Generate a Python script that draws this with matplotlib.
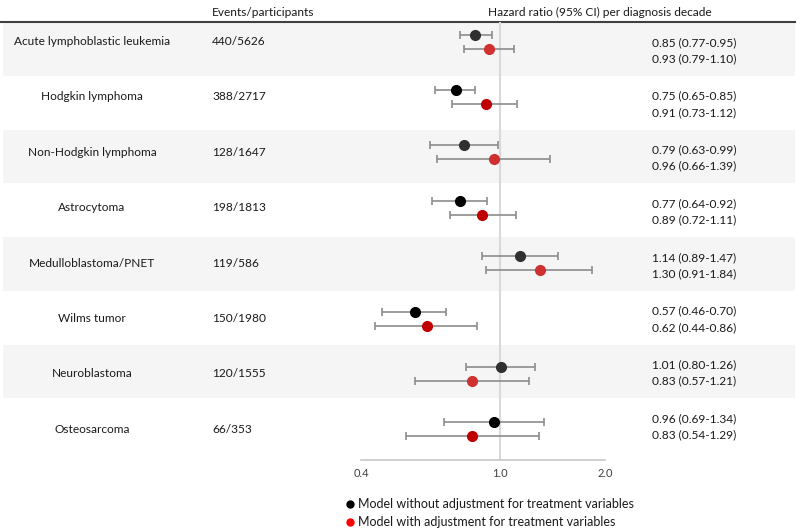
import matplotlib
matplotlib.use("Agg")
import matplotlib.pyplot as plt
import matplotlib.transforms as mtransforms
from matplotlib.lines import Line2D
from matplotlib.ticker import FixedLocator, NullLocator, FixedFormatter

plt.rcParams['font.family'] = ['Lato', 'DejaVu Sans']

cancers = ['Acute lymphoblastic leukemia', 'Hodgkin lymphoma', 'Non-Hodgkin lymphoma',
           'Astrocytoma', 'Medulloblastoma/PNET', 'Wilms tumor', 'Neuroblastoma', 'Osteosarcoma']
events = ['440/5626', '388/2717', '128/1647', '198/1813', '119/586', '150/1980', '120/1555', '66/353']

hr_unadj = [0.85, 0.75, 0.79, 0.77, 1.14, 0.57, 1.01, 0.96]
lo_unadj = [0.77, 0.65, 0.63, 0.64, 0.89, 0.46, 0.80, 0.69]
hi_unadj = [0.95, 0.85, 0.99, 0.92, 1.47, 0.70, 1.26, 1.34]

hr_adj = [0.93, 0.91, 0.96, 0.89, 1.30, 0.62, 0.83, 0.83]
lo_adj = [0.79, 0.73, 0.66, 0.72, 0.91, 0.44, 0.57, 0.54]
hi_adj = [1.10, 1.12, 1.39, 1.11, 1.84, 0.86, 1.21, 1.29]

xticks = [0.4, 1.0, 2.0]
xticklabels = ['0.4', '1.0', '2.0']

W, H = 800, 531
fig = plt.figure(figsize=(W / 100, H / 100), dpi=100)

# background "table" axes: rows in index units, band height ~54 px
top_px, row_px = 22, 53.75
bg = fig.add_axes([0, 0, 1, 1], zorder=0)
bg.set_xlim(0, 1)
bg.set_ylim(-0.5 + (H - top_px) / row_px, -0.5 - top_px / row_px)
bg.axis('off')

n = len(cancers)
for i in range(n):
    if i % 2 == 0:
        bg.axhspan(i - 0.5, i + 0.5, xmin=0.004, xmax=0.994, color='#f5f5f5', lw=0)
bg.axhline(-0.5, xmin=0, xmax=0.994, color='#404040', lw=1.5)

fs = 8.6
txtc = '#1a1a1a'
bg.text(212 / W, -0.5 - 10 / row_px, 'Events/participants', ha='left', va='center',
        fontsize=fs, color=txtc)
bg.text(600 / W, -0.5 - 10 / row_px, 'Hazard ratio (95% CI) per diagnosis decade',
        ha='center', va='center', fontsize=fs, color=txtc)

for i in range(n):
    bg.text(694 / W, i - 0.12, f'{hr_unadj[i]:.2f} ({lo_unadj[i]:.2f}-{hi_unadj[i]:.2f})',
            ha='center', va='center', fontsize=fs, color=txtc)
    bg.text(694 / W, i + 0.18, f'{hr_adj[i]:.2f} ({lo_adj[i]:.2f}-{hi_adj[i]:.2f})',
            ha='center', va='center', fontsize=fs, color=txtc)

# forest axes: point pairs spaced ~55.4 px
pt_px, pt0 = 55.4, 41.5
ax_top, ax_bot = 22, 460
ax_l, ax_r = 361, 605
ax = fig.add_axes([ax_l / W, (H - ax_bot) / H, (ax_r - ax_l) / W, (ax_bot - ax_top) / H], zorder=1)
ax.patch.set_alpha(0)
ax.set_xscale('log')
ax.set_xlim(0.4, 2.0)
ax.set_ylim((ax_bot - pt0) / pt_px, (ax_top - pt0) / pt_px)
for s in ['top', 'right', 'left']:
    ax.spines[s].set_visible(False)
ax.spines['bottom'].set_color('#c8c8c8')
ax.spines['bottom'].set_linewidth(1.2)
ax.xaxis.set_major_locator(FixedLocator(xticks))
ax.xaxis.set_major_formatter(FixedFormatter(xticklabels))
ax.xaxis.set_minor_locator(NullLocator())
ax.tick_params(axis='x', length=0, pad=6, labelsize=8, labelcolor='#404040')
ax.set_yticks([])
ax.axvline(1.0, color='#d9d9d9', lw=1.5, zorder=0)

off = 7 / pt_px
for i in range(n):
    grey_row = i % 2 == 0
    cb = '#303030' if grey_row else 'black'
    cr = '#cf3030' if grey_row else '#c00000'
    ax.errorbar(hr_unadj[i], i - off,
                xerr=[[hr_unadj[i] - lo_unadj[i]], [hi_unadj[i] - hr_unadj[i]]],
                fmt='o', color=cb, ms=7, ecolor='#8c8c8c', elinewidth=1.2,
                capsize=3, capthick=1.2, zorder=3)
    ax.errorbar(hr_adj[i], i + off,
                xerr=[[hr_adj[i] - lo_adj[i]], [hi_adj[i] - hr_adj[i]]],
                fmt='o', color=cr, ms=7, ecolor='#8c8c8c', elinewidth=1.2,
                capsize=3, capthick=1.2, zorder=3)

# left labels follow the point spacing
trans = mtransforms.blended_transform_factory(fig.transFigure, ax.transData)
for i in range(n):
    ax.text(92 / W, i, cancers[i], transform=trans,
            ha='center', va='center', fontsize=fs, color=txtc)
    ax.text(212 / W, i, events[i], transform=trans,
            ha='left', va='center', fontsize=fs, color=txtc)

handles = [Line2D([], [], marker='o', ls='', color='black', ms=5),
           Line2D([], [], marker='o', ls='', color='#ff0000', ms=5)]
fig.legend(handles, ['Model without adjustment for treatment variables',
                     'Model with adjustment for treatment variables'],
           loc='upper left', bbox_to_anchor=(346 / W, 1 - 498 / H), frameon=False,
           fontsize=9, handlelength=0.6, handletextpad=0.4, labelspacing=0.5,
           borderpad=0, borderaxespad=0, labelcolor=txtc)

fig.savefig('out.png', dpi=100)
